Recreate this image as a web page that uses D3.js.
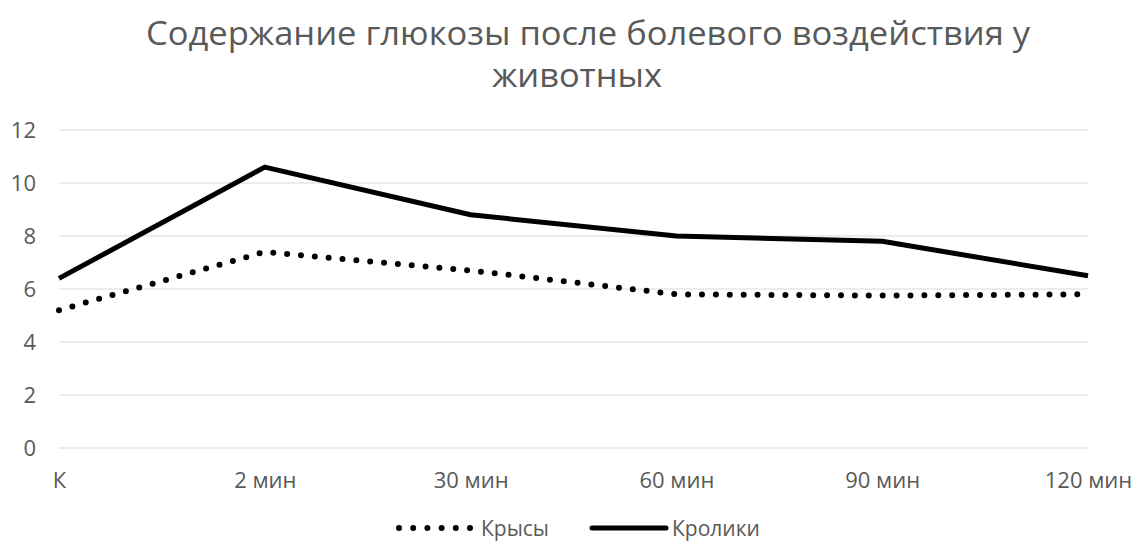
<!DOCTYPE html>
<html>
<head>
<meta charset="utf-8">
<script src="https://cdn.jsdelivr.net/npm/d3@7"></script>
<style>
  html, body { margin: 0; padding: 0; background: #fff; }
  svg { display: block; }
  text { font-family: "Open Sans", "Noto Sans", sans-serif; fill: #595959; }
</style>
</head>
<body>
<svg id="chart" width="1139" height="546"></svg>
<script>
// Glucose levels after pain exposure
const titleLines = ["Содержание глюкозы после болевого воздействия у", "животных"];
const categories = ["К", "2 мин", "30 мин", "60 мин", "90 мин", "120 мин"];
const rats = [5.2, 7.4, 6.7, 5.8, 5.75, 5.8];
const rabbits = [6.4, 10.6, 8.8, 8.0, 7.8, 6.5];
const yTicks = [0, 2, 4, 6, 8, 10, 12];
const seriesNames = ["Крысы", "Кролики"];

const svg = d3.select("#chart");
const margin = { left: 59, right: 51, top: 130, bottom: 98 };
const W = 1139, H = 546;

const x = d3.scalePoint().domain(categories).range([margin.left, W - margin.right]);
const y = d3.scaleLinear().domain([0, 12]).range([H - margin.bottom, margin.top]);

// Title (two centred lines, condensed to the title block width)
const title = svg.append("g");
title.append("text").attr("x", 588).attr("y", 45).attr("text-anchor", "middle")
  .attr("textLength", 884).attr("lengthAdjust", "spacingAndGlyphs")
  .style("font-size", "32px").text(titleLines[0]);
title.append("text").attr("x", 577).attr("y", 87).attr("text-anchor", "middle")
  .attr("textLength", 170).attr("lengthAdjust", "spacingAndGlyphs")
  .style("font-size", "32px").text(titleLines[1]);

// Horizontal gridlines
svg.append("g").selectAll("line").data(yTicks).join("line")
  .attr("x1", margin.left).attr("x2", W - margin.right)
  .attr("y1", d => y(d)).attr("y2", d => y(d))
  .attr("stroke", "#d9d9d9").attr("stroke-width", 1.2);

// Y axis labels
const yAxis = svg.append("g").attr("transform", `translate(${36},0)`)
  .call(d3.axisLeft(y).tickValues(yTicks).tickSize(0).tickPadding(0));
yAxis.select(".domain").remove();
yAxis.selectAll("text").style("font-size", "22px").attr("fill", "#595959");

// X axis labels
const xAxis = svg.append("g").attr("transform", `translate(0,${y(0) + 24})`)
  .call(d3.axisBottom(x).tickSize(0).tickPadding(0));
xAxis.select(".domain").remove();
xAxis.selectAll("text").style("font-size", "22px").attr("fill", "#595959");

const line = d3.line().x((d, i) => x(categories[i])).y(d => y(d));

// Rabbits: solid
svg.append("path").datum(rabbits).attr("d", line)
  .attr("fill", "none").attr("stroke", "#000").attr("stroke-width", 5)
  .attr("stroke-linejoin", "round");

// Rats: round dots
svg.append("path").datum(rats).attr("d", line)
  .attr("fill", "none").attr("stroke", "#000").attr("stroke-width", 6)
  .attr("stroke-linecap", "round").attr("stroke-dasharray", "0 13.9");

// Legend
const legend = svg.append("g").attr("transform", `translate(0,528)`);
legend.append("line").attr("x1", 399).attr("x2", 470).attr("y1", 0).attr("y2", 0)
  .attr("stroke", "#000").attr("stroke-width", 6)
  .attr("stroke-linecap", "round").attr("stroke-dasharray", "0 14.2");
legend.append("text").attr("x", 481).attr("y", 8)
  .style("font-size", "21px").text(seriesNames[0]);
legend.append("line").attr("x1", 592).attr("x2", 666).attr("y1", 0).attr("y2", 0)
  .attr("stroke", "#000").attr("stroke-width", 5).attr("stroke-linecap", "round");
legend.append("text").attr("x", 672).attr("y", 8)
  .style("font-size", "21px").text(seriesNames[1]);
</script>
</body>
</html>
